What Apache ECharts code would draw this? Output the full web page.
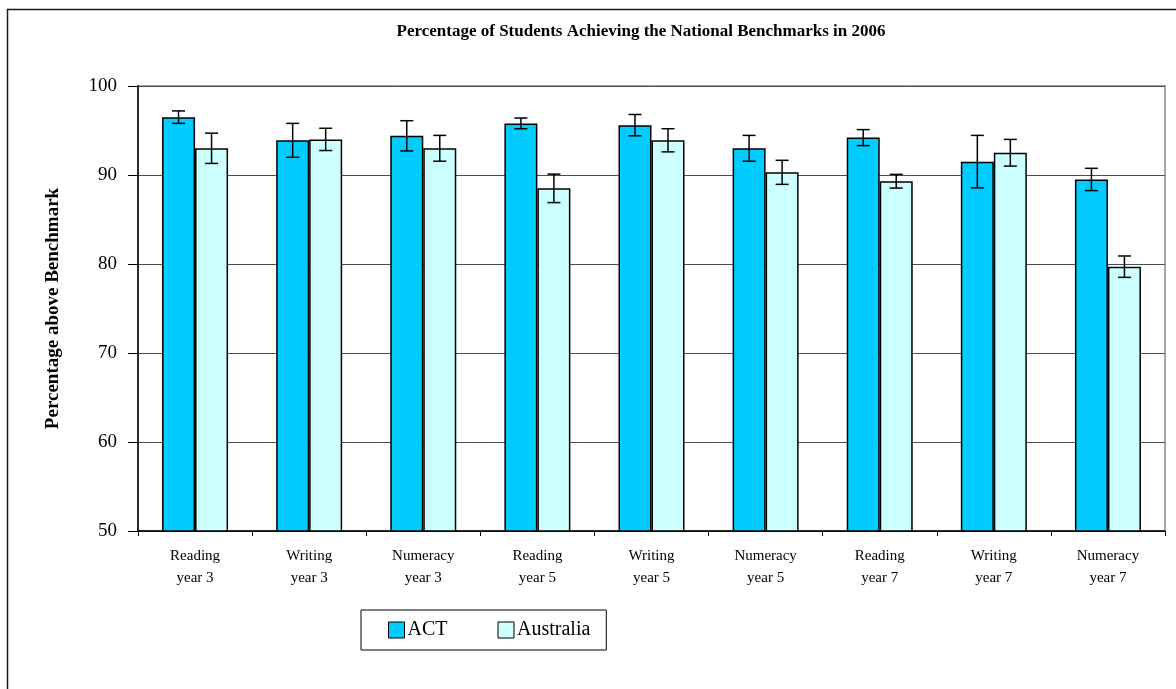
<!DOCTYPE html>
<html>
<head>
<meta charset="utf-8">
<script src="https://cdn.jsdelivr.net/npm/echarts@6/dist/echarts.min.js"></script>
<style>
  html, body { margin: 0; padding: 0; background: #fff; }
  #chart { width: 1176px; height: 689px; }
</style>
</head>
<body>
<div id="chart"></div>
<script>
// values
var categories = [
  'Reading\nyear 3', 'Writing\nyear 3', 'Numeracy\nyear 3',
  'Reading\nyear 5', 'Writing\nyear 5', 'Numeracy\nyear 5',
  'Reading\nyear 7', 'Writing\nyear 7', 'Numeracy\nyear 7'
];
var actValues = [96.5, 93.9, 94.4, 95.8, 95.6, 93.0, 94.2, 91.5, 89.5];
var ausValues = [93.0, 94.0, 93.0, 88.5, 93.9, 90.3, 89.3, 92.5, 79.7];
var actErr = [0.7, 1.9, 1.7, 0.6, 1.2, 1.45, 0.9, 2.95, 1.25];
var ausErr = [1.7, 1.25, 1.45, 1.6, 1.3, 1.35, 0.77, 1.5, 1.2];
var yTicks = [50, 60, 70, 80, 90, 100];

var serif = '"Liberation Serif", "Times New Roman", serif';
var barW = 33;

function errData(vals, errs) {
  return vals.map(function (v, i) { return [i, v - errs[i], v + errs[i]]; });
}

function errSeries(name, vals, errs, offset) {
  return {
    name: name,
    type: 'custom',
    z: 5,
    silent: true,
    data: errData(vals, errs),
    renderItem: function (params, api) {
      var lo = api.coord([api.value(0), api.value(1)]);
      var hi = api.coord([api.value(0), api.value(2)]);
      var x = lo[0] + offset;
      var cap = 6.5;
      var st = { stroke: '#000', lineWidth: 1.5 };
      return {
        type: 'group',
        children: [
          { type: 'line', shape: { x1: x, y1: lo[1], x2: x, y2: hi[1] }, style: st },
          { type: 'line', shape: { x1: x - cap, y1: lo[1], x2: x + cap, y2: lo[1] }, style: st },
          { type: 'line', shape: { x1: x - cap, y1: hi[1], x2: x + cap, y2: hi[1] }, style: st }
        ]
      };
    }
  };
}

var chart = echarts.init(document.getElementById('chart'));
chart.setOption({
  animation: false,
  backgroundColor: '#fff',
  title: {
    text: 'Percentage of Students Achieving the National Benchmarks in 2006',
    left: 636,
    textAlign: 'center',
    top: 18,
    textStyle: { fontFamily: serif, fontSize: 17, fontWeight: 'bold', color: '#000' }
  },
  graphic: [{
    type: 'rect',
    silent: true,
    shape: { x: 7.5, y: 9.5, width: 1200, height: 720 },
    style: { fill: 'none', stroke: '#1a1a1a', lineWidth: 1.5 }
  }],
  legend: {
    data: ['ACT', 'Australia'],
    left: 361,
    top: 610,
    padding: [10, 16, 10, 27],
    itemGap: 50,
    itemWidth: 16,
    itemHeight: 16,
    icon: 'rect',
    borderColor: '#000',
    borderWidth: 1,
    itemStyle: { borderColor: '#000', borderWidth: 1 },
    textStyle: { fontFamily: serif, fontSize: 20, color: '#000', padding: [2, 0, 0, -2] }
  },
  grid: {
    left: 138,
    right: 11,
    top: 86,
    bottom: 158,
    show: true,
    borderColor: '#a6a6a6',
    borderWidth: 2
  },
  xAxis: {
    type: 'category',
    data: categories,
    axisLine: { lineStyle: { color: '#000', width: 1.5 } },
    axisTick: { show: true, length: 5, lineStyle: { color: '#000' } },
    axisLabel: {
      fontFamily: serif, fontSize: 15, color: '#000',
      lineHeight: 22, margin: 14
    }
  },
  yAxis: {
    type: 'value',
    min: yTicks[0],
    max: yTicks[yTicks.length - 1],
    interval: 10,
    name: 'Percentage above Benchmark',
    nameLocation: 'middle',
    nameGap: 75,
    nameTextStyle: { fontFamily: serif, fontSize: 19, fontWeight: 'bold', color: '#000' },
    axisLine: { show: true, lineStyle: { color: '#000', width: 1.5 } },
    axisTick: { show: true, length: 10, lineStyle: { color: '#000' } },
    axisLabel: { fontFamily: serif, fontSize: 19, color: '#000', margin: 21 },
    splitLine: { lineStyle: { color: '#4d4d4d', width: 1 } }
  },
  series: [
    {
      name: 'ACT',
      type: 'bar',
      data: actValues,
      barWidth: barW,
      barGap: '0%',
      itemStyle: { color: '#00ccff', borderColor: '#000', borderWidth: 1.5 }
    },
    {
      name: 'Australia',
      type: 'bar',
      data: ausValues,
      barWidth: barW,
      itemStyle: { color: '#ccffff', borderColor: '#000', borderWidth: 1.5 }
    },
    errSeries('ACT error', actValues, actErr, -barW / 2),
    errSeries('Australia error', ausValues, ausErr, barW / 2)
  ]
});
</script>
</body>
</html>
